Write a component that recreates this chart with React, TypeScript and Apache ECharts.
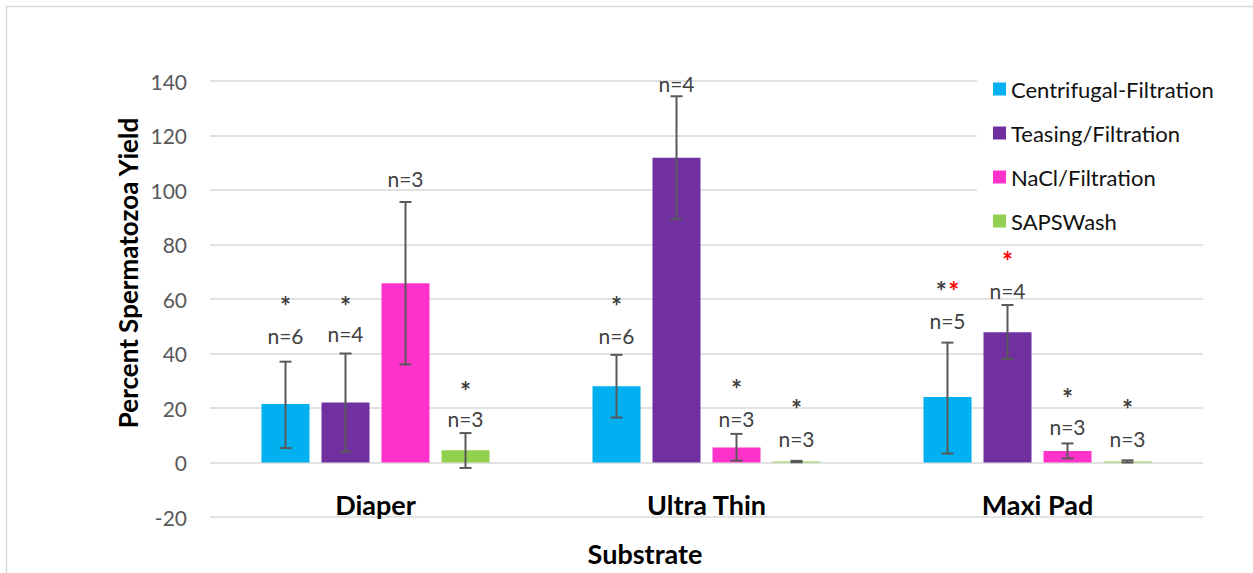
import React, { useEffect, useRef } from "react";
import * as echarts from "echarts";

const categories = ["Diaper", "Ultra Thin", "Maxi Pad"];
const seriesNames = ["Centrifugal-Filtration", "Teasing/Filtration", "NaCl/Filtration", "SAPSWash"];
const seriesColors = ["#00b0f0", "#7030a0", "#ff33cc", "#92d050"];

// mean yields
const centrifugal = [21.5, 28.0, 24.0];
const teasing = [22.0, 111.8, 47.8];
const nacl = [65.8, 5.5, 4.2];
const saps = [4.5, 0.4, 0.4];

// error bar low / high
const centrifugalLow = [5.3, 16.5, 3.3];
const centrifugalHigh = [37.0, 39.5, 44.0];
const teasingLow = [4.0, 89.3, 38.0];
const teasingHigh = [40.0, 134.4, 57.8];
const naclLow = [36.0, 0.7, 1.5];
const naclHigh = [95.6, 10.5, 7.0];
const sapsLow = [-2.0, 0.1, 0.0];
const sapsHigh = [10.8, 0.6, 0.8];

// sample sizes and their label heights (data units)
const centrifugalN = ["n=6", "n=6", "n=5"];
const teasingN = ["n=4", "n=4", "n=4"];
const naclN = ["n=3", "n=3", "n=3"];
const sapsN = ["n=3", "n=3", "n=3"];
const centrifugalNY = [46.7, 46.7, 52.2];
const teasingNY = [47.4, 139.0, 63.2];
const naclNY = [104.4, 16.2, 13.3];
const sapsNY = [16.2, 8.8, 8.8];

// significance marks: "*" black, "r" red
const centrifugalStars = ["*", "*", "*r"];
const teasingStars = ["*", "", "r"];
const naclStars = ["", "*", "*"];
const sapsStars = ["*", "*", "*"];
const centrifugalStarY = [59.6, 59.6, 65.0];
const teasingStarY = [59.6, 0, 76.0];
const naclStarY = [0, 29.0, 25.8];
const sapsStarY = [28.3, 21.7, 21.7];

const yTicks = { min: -20, max: 140, interval: 20 };

const FONT = "Lato, 'Open Sans', sans-serif";
const BAR_W = 48;
const STEP = 60;

export default function App() {
  const ref = useRef<HTMLDivElement>(null);
  useEffect(() => {
    if (!ref.current) return;
    const chart = echarts.init(ref.current, undefined, { renderer: "svg" });
    const values = [centrifugal, teasing, nacl, saps];
    const lows = [centrifugalLow, teasingLow, naclLow, sapsLow];
    const highs = [centrifugalHigh, teasingHigh, naclHigh, sapsHigh];
    const nTexts = [centrifugalN, teasingN, naclN, sapsN];
    const nYs = [centrifugalNY, teasingNY, naclNY, sapsNY];
    const stars = [centrifugalStars, teasingStars, naclStars, sapsStars];
    const starYs = [centrifugalStarY, teasingStarY, naclStarY, sapsStarY];

    const errData: number[][] = [];
    const annData: any[] = [];
    for (let s = 0; s < 4; s++) {
      for (let c = 0; c < categories.length; c++) {
        errData.push([c, s, lows[s][c], highs[s][c]]);
        annData.push({ value: [c, s, nYs[s][c], starYs[s][c]], n: nTexts[s][c], st: stars[s][c] });
      }
    }

    const option: any = {
      animation: false,
      backgroundColor: "#ffffff",
      textStyle: { fontFamily: FONT },
      grid: { left: 210, right: 50, top: 81, bottom: 56, containLabel: false },
      legend: {
        data: seriesNames,
        orient: "vertical",
        left: 977,
        top: 69,
        padding: [9, 8, 9, 16],
        backgroundColor: "#ffffff",
        itemWidth: 13,
        itemHeight: 13,
        itemGap: 22,
        icon: "rect",
        textStyle: { fontSize: 22, color: "#111111", fontFamily: FONT, lineHeight: 22 },
      },
      xAxis: {
        type: "category",
        data: categories,
        axisLine: { show: false },
        axisTick: { show: false },
        axisLabel: { fontSize: 27, fontWeight: "bold", color: "#000", margin: -26, fontFamily: FONT },
        splitLine: { show: false },
      },
      yAxis: {
        type: "value",
        min: yTicks.min,
        max: yTicks.max,
        interval: yTicks.interval,
        axisLine: { show: false },
        axisTick: { show: false },
        axisLabel: { fontSize: 21, color: "#595959", margin: 23, fontFamily: FONT },
        splitLine: { lineStyle: { color: "#d9d9d9", width: 1.5 } },
      },
      graphic: [
        {
          type: "rect",
          z: -10,
          silent: true,
          shape: { x: 6.5, y: 6.5, width: 1400, height: 800 },
          style: { fill: "none", stroke: "#d9d9d9", lineWidth: 1.5 },
        },
        {
          type: "text",
          x: 128,
          y: 273,
          rotation: Math.PI / 2,
          style: {
            text: "Percent Spermatozoa Yield",
            font: `bold 26px ${FONT}`,
            fill: "#000",
            align: "center",
            verticalAlign: "middle",
          },
        },
        {
          type: "text",
          x: 645,
          y: 553,
          style: {
            text: "Substrate",
            font: `bold 27px ${FONT}`,
            fill: "#000",
            align: "center",
            verticalAlign: "middle",
          },
        },
      ],
      series: [
        ...seriesNames.map((name, i) => ({
          name,
          type: "bar",
          data: values[i],
          barWidth: BAR_W,
          barGap: "25%",
          itemStyle: { color: seriesColors[i] },
          z: 2,
        })),
        {
          type: "custom",
          name: "err",
          data: errData,
          encode: { x: 0, y: [2, 3] },
          z: 5,
          silent: true,
          renderItem: (params: any, api: any) => {
            const c = api.value(0);
            const s = api.value(1);
            const lo = api.coord([c, api.value(2)]);
            const hi = api.coord([c, api.value(3)]);
            const x = lo[0] + (s - 1.5) * STEP;
            const st = { stroke: "#595959", lineWidth: 2 };
            return {
              type: "group",
              children: [
                { type: "line", shape: { x1: x, y1: lo[1], x2: x, y2: hi[1] }, style: st },
                { type: "line", shape: { x1: x - 6, y1: lo[1], x2: x + 6, y2: lo[1] }, style: st },
                { type: "line", shape: { x1: x - 6, y1: hi[1], x2: x + 6, y2: hi[1] }, style: st },
              ],
            };
          },
        },
        {
          type: "custom",
          name: "ann",
          data: annData,
          encode: { x: 0, y: 2 },
          z: 6,
          silent: true,
          renderItem: (params: any, api: any) => {
            const item = annData[params.dataIndex];
            const c = api.value(0);
            const s = api.value(1);
            const p = api.coord([c, api.value(2)]);
            const x = p[0] + (s - 1.5) * STEP;
            const children: any[] = [
              {
                type: "text",
                x,
                y: p[1],
                style: {
                  text: item.n,
                  font: `21px ${FONT}`,
                  fill: "#404040",
                  align: "center",
                  verticalAlign: "middle",
                },
              },
            ];
            const sy = api.coord([c, api.value(3)])[1] + 6;
            const marks: string = item.st;
            if (marks) {
              const w = 12.6;
              const start = x - ((marks.length - 1) * w) / 2;
              for (let k = 0; k < marks.length; k++) {
                const red = marks[k] === "r";
                children.push({
                  type: "text",
                  x: start + k * w,
                  y: sy,
                  style: {
                    text: "*",
                    font: `bold 26px ${FONT}`,
                    fill: red ? "#ff0000" : "#404040",
                    align: "center",
                    verticalAlign: "middle",
                  },
                });
              }
            }
            return { type: "group", children };
          },
        },
      ],
    };
    chart.setOption(option);
    return () => chart.dispose();
  }, []);
  return (
    <div
      ref={ref}
      style={{ position: "fixed", left: 0, top: 0, width: 1253, height: 573, background: "#fff" }}
    />
  );
}
